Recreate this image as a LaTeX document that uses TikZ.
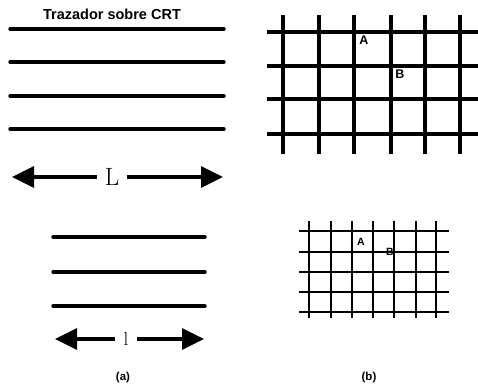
\documentclass[tikz,border=0pt]{standalone}
\usepackage{fontspec}
\setsansfont{Liberation Sans}
\usetikzlibrary{positioning, arrows.meta}

\begin{document}
\begin{tikzpicture}[
    x=1pt, y=-1pt,
    every node/.style={font=\sffamily\bfseries, inner sep=0pt},
    stripe/.style={line width=3.4pt, line cap=round},
    gridline/.style={line width=3.8pt},
    finegrid/.style={line width=2.8pt},
    dimarrow/.style={-{Triangle[length=22pt, width=21pt]}, line width=3.2pt},
    label/.style={font=\sffamily\bfseries\fontsize{12.5}{12.5}\selectfont},
    caption/.style={font=\sffamily\bfseries\fontsize{11.5}{11.5}\selectfont},
]
\useasboundingbox (0,0) rectangle (478,388);
% (a) plotter on CRT, large
\node[font=\sffamily\bfseries\fontsize{14.5}{14.5}\selectfont] (n_title) at (112,14) {Trazador sobre CRT};
\draw[stripe] (10,29) -- (224,29);
\draw[stripe] (10,62) -- (224,62);
\draw[stripe] (10,96) -- (224,96);
\draw[stripe] (10,129) -- (224,129);
\node[font=\rmfamily\fontsize{25}{25}\selectfont, minimum width=30pt] (n_L) at (112,177) {L};
\coordinate (n_L_left) at (12,177);
\coordinate (n_L_right) at (223,177);
\draw[dimarrow] (n_L.west) -- (n_L_left);
\draw[dimarrow] (n_L.east) -- (n_L_right);
% (a) plotter on CRT, small
\draw[stripe] (53,237) -- (205,237);
\draw[stripe] (53,272) -- (205,272);
\draw[stripe] (53,306) -- (205,306);
\node[font=\rmfamily\fontsize{19}{19}\selectfont, minimum width=22pt] (n_l) at (126,339) {l};
\coordinate (n_l_left) at (55,339);
\coordinate (n_l_right) at (204,339);
\draw[dimarrow] (n_l.west) -- (n_l_left);
\draw[dimarrow] (n_l.east) -- (n_l_right);
\node[caption] (n_cap_a) at (123,378) {(a)};
% (b) raster grid, large
\draw[gridline] (267,32) -- (478,32);
\draw[gridline] (267,66) -- (478,66);
\draw[gridline] (267,99) -- (478,99);
\draw[gridline] (267,134) -- (478,134);
\draw[gridline] (283,15) -- (283,154);
\draw[gridline] (319,15) -- (319,154);
\draw[gridline] (354,15) -- (354,154);
\draw[gridline] (391,15) -- (391,154);
\draw[gridline] (425,15) -- (425,154);
\draw[gridline] (460,15) -- (460,154);
\node[label] (n_A) at (364,40.5) {A};
\node[label] (n_B) at (400,74) {B};
% (b) raster grid, small
\draw[finegrid] (299,231) -- (449,231);
\draw[finegrid] (299,252) -- (449,252);
\draw[finegrid] (299,272) -- (449,272);
\draw[finegrid] (299,292) -- (449,292);
\draw[finegrid] (299,312) -- (449,312);
\draw[finegrid] (309,221) -- (309,318);
\draw[finegrid] (331,221) -- (331,318);
\draw[finegrid] (352,221) -- (352,318);
\draw[finegrid] (373,221) -- (373,318);
\draw[finegrid] (394,221) -- (394,318);
\draw[finegrid] (416,221) -- (416,318);
\draw[finegrid] (436,221) -- (436,318);
\node[font=\sffamily\bfseries\fontsize{10.5}{10.5}\selectfont] (n_a) at (361,242) {A};
\node[font=\sffamily\bfseries\fontsize{10.5}{10.5}\selectfont] (n_b) at (390,252) {B};
\node[caption] (n_cap_b) at (369,378) {(b)};
\end{tikzpicture}
\end{document}
